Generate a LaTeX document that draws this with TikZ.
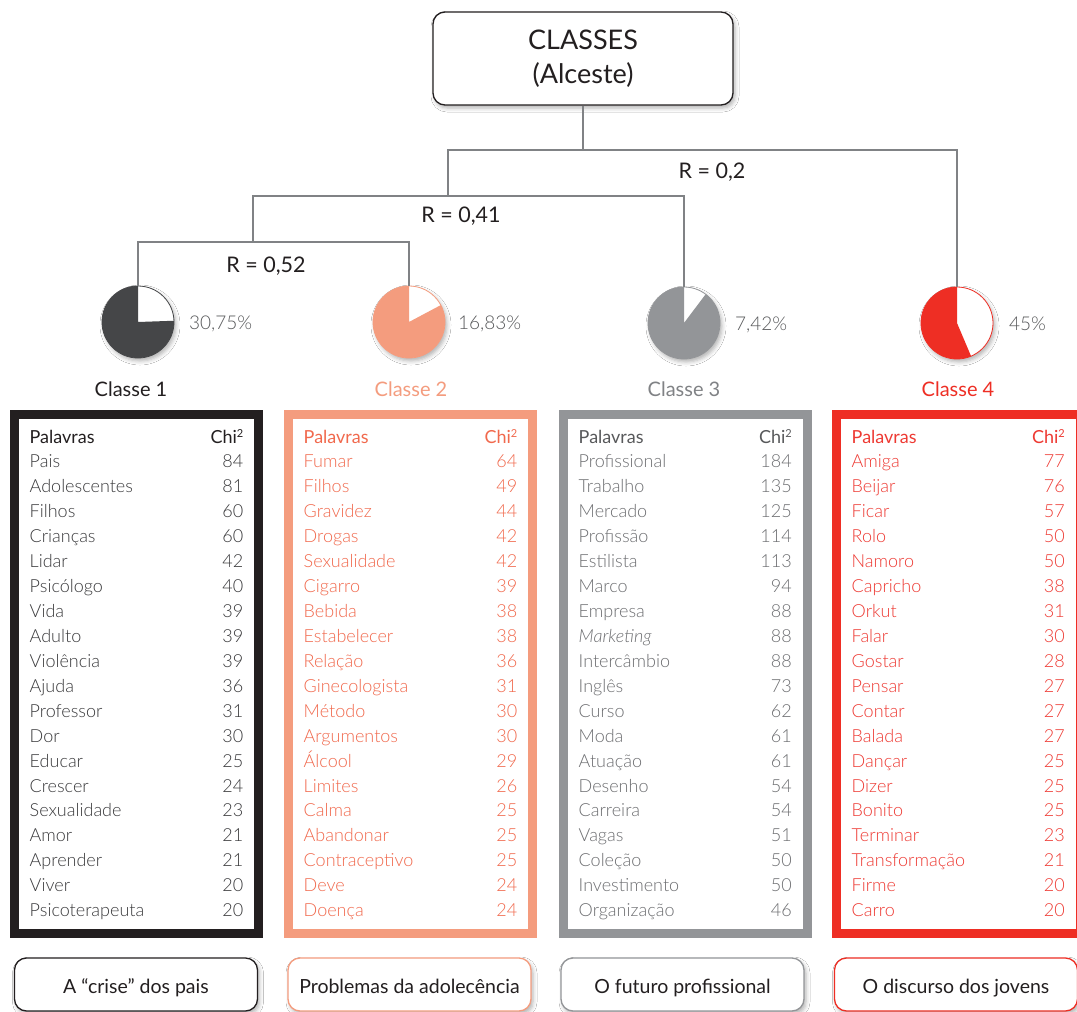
\documentclass[tikz,border=0pt]{standalone}
\usepackage{fontspec}
\setmainfont{Lato}
\newfontfamily\lightfont{Lato Light}
\usetikzlibrary{shadows.blur}
\definecolor{cblack}{HTML}{231F20}
\definecolor{csalmon}{HTML}{F49C7E}
\definecolor{cgray}{HTML}{939598}
\definecolor{cred}{HTML}{EE2E24}
\definecolor{cdark}{HTML}{454648}
\definecolor{tline}{HTML}{808285}
\definecolor{txtA}{HTML}{3A3A3C}
\definecolor{txtB}{HTML}{F1694D}
\definecolor{txtC}{HTML}{6D6E71}
\definecolor{txtD}{HTML}{EE3A33}
\definecolor{pctcol}{HTML}{58595B}
\newcommand\mkt{\textit{Marketing}}
\newcommand\chisq{Chi\raisebox{6pt}{\fontsize{11}{11}\selectfont 2}}
\begin{document}
\begin{tikzpicture}[x=1pt,y=-1pt,
  tree/.style={draw=tline, line width=2.3},
  myshadow/.style={blur shadow={shadow xshift=2pt, shadow yshift=-3pt, shadow blur radius=4pt, shadow opacity=30}},
  titlebox/.style={rounded corners=12, draw=cblack, line width=1.3, fill=white, minimum width=300, minimum height=93, inner sep=0, align=center, myshadow, font=\fontsize{27}{34}\selectfont, text=cblack},
  pie/.style={circle, minimum size=72, inner sep=0, fill=white, line width=0.8, myshadow},
  rlab/.style={anchor=base, inner sep=0, font=\fontsize{21.5}{24}\selectfont, text=cblack},
  pct/.style={anchor=base west, inner sep=0, font=\lightfont\fontsize{19}{22}\selectfont, text=pctcol},
  cls/.style={anchor=base, inner sep=0, font=\fontsize{20}{22}\selectfont},
  tbl/.style={draw, line width=9, minimum width=244, minimum height=519, inner sep=0},
  head/.style={inner sep=0, font=\fontsize{18}{20}\selectfont},
  word/.style={anchor=base west, inner sep=0, font=\lightfont\fontsize{18}{20}\selectfont},
  num/.style={anchor=base east, inner sep=0, font=\lightfont\fontsize{18}{20}\selectfont},
  bbox/.style={rounded corners=12, draw, line width=1.3, fill=white, minimum width=243, minimum height=53, inner sep=0, myshadow, font=\fontsize{19.5}{22}\selectfont, text=cblack, text height=17, text depth=0}
]
\useasboundingbox (0,0) rectangle (1077,1012);
\fill[white] (0,0) rectangle (1077,1012);

% title
\node[titlebox] (title) at (583,58.5) {CLASSES\\(Alceste)};

% junctions
\coordinate (j1) at (583,150);
\coordinate (j2) at (448,196);
\coordinate (j3) at (253,242);

% pies
\node[pie, draw=cdark] (p1) at (138,322) {};
\node[pie, draw=csalmon] (p2) at (409,322) {};
\node[pie, draw=cgray] (p3) at (684,323) {};
\node[pie, draw=cred] (p4) at (957,323) {};
\fill[cdark] (p1.center) -- ++(-90:36) arc[start angle=-90, end angle=-362, radius=36] -- cycle;
\fill[csalmon] (p2.center) -- ++(-90:36) arc[start angle=-90, end angle=-388, radius=36] -- cycle;
\fill[cgray] (p3.center) -- ++(-90:36) arc[start angle=-90, end angle=-413, radius=36] -- cycle;
\fill[cred] (p4.center) -- ++(-90:36) arc[start angle=-90, end angle=-293, radius=36] -- cycle;

% tree
\draw[tree] (title.south) -- (j1);
\draw[tree] (p4.north) |- (j2 |- j1) -- (j2);
\draw[tree] (p3.north) |- (j3 |- j2) -- (j3);
\draw[tree] (p2.north) |- (p1.north |- j3) -- (p1.north);

% R labels
\node[rlab] (r1) at (266,272.5) {R = 0,52};
\node[rlab] (r2) at (461,222.5) {R = 0,41};
\node[rlab] (r3) at (712,178) {R = 0,2};

% percentages
\node[pct] (q1) at (189,329) {30,75\%};
\node[pct] (q2) at (458,329) {16,83\%};
\node[pct] (q3) at (735,330) {7,42\%};
\node[pct] (q4) at (1009,330) {45\%};

% class labels
\node[cls, text=cblack] (k1) at (131,396) {Classe 1};
\node[cls, text=csalmon] (k2) at (411,396) {Classe 2};
\node[cls, text=tline] (k3) at (684,396) {Classe 3};
\node[cls, text=cred] (k4) at (958,396) {Classe 4};

% tables
\node[tbl, draw=cblack] (t1) at (136.5,674) {};
\node[tbl, draw=csalmon] (t2) at (410.5,674) {};
\node[tbl, draw=cgray] (t3) at (685,674) {};
\node[tbl, draw=cred] (t4) at (958.5,674) {};

\node[head, anchor=base west, text=cblack] (t1h) at (29.5,443) {Palavras};
\node[head, anchor=base east, text=cblack] (t1x) at (243.5,443) {\chisq};
\foreach \w/\n [count=\k] in {Pais/84, Adolescentes/81, Filhos/60, Crianças/60, Lidar/42, Psicólogo/40, Vida/39, Adulto/39, Violência/39, Ajuda/36, Professor/31, Dor/30, Educar/25, Crescer/24, Sexualidade/23, Amor/21, Aprender/21, Viver/20, Psicoterapeuta/20}{
  \node[word, text=txtA] (t1w\k) at (29.5,{443+24.93*\k}) {\w};
  \node[num, text=txtA] (t1n\k) at (243.5,{443+24.93*\k}) {\n};
}

\node[head, anchor=base west, text=txtB] (t2h) at (303.5,443) {Palavras};
\node[head, anchor=base east, text=txtB] (t2x) at (517.5,443) {\chisq};
\foreach \w/\n [count=\k] in {Fumar/64, Filhos/49, Gravidez/44, Drogas/42, Sexualidade/42, Cigarro/39, Bebida/38, Estabelecer/38, Relação/36, Ginecologista/31, Método/30, Argumentos/30, Álcool/29, Limites/26, Calma/25, Abandonar/25, Contraceptivo/25, Deve/24, Doença/24}{
  \node[word, text=txtB] (t2w\k) at (303.5,{443+24.93*\k}) {\w};
  \node[num, text=txtB] (t2n\k) at (517.5,{443+24.93*\k}) {\n};
}

\node[head, anchor=base west, text=pctcol] (t3h) at (578.5,443) {Palavras};
\node[head, anchor=base east, text=pctcol] (t3x) at (792,443) {\chisq};
\foreach \w/\n [count=\k] in {Profissional/184, Trabalho/135, Mercado/125, Profissão/114, Estilista/113, Marco/94, Empresa/88, \mkt/88, Intercâmbio/88, Inglês/73, Curso/62, Moda/61, Atuação/61, Desenho/54, Carreira/54, Vagas/51, Coleção/50, Investimento/50, Organização/46}{
  \node[word, text=txtC] (t3w\k) at (578.5,{443+24.93*\k}) {\w};
  \node[num, text=txtC] (t3n\k) at (792,{443+24.93*\k}) {\n};
}

\node[head, anchor=base west, text=txtD] (t4h) at (851.5,443) {Palavras};
\node[head, anchor=base east, text=txtD] (t4x) at (1065,443) {\chisq};
\foreach \w/\n [count=\k] in {Amiga/77, Beijar/76, Ficar/57, Rolo/50, Namoro/50, Capricho/38, Orkut/31, Falar/30, Gostar/28, Pensar/27, Contar/27, Balada/27, Dançar/25, Dizer/25, Bonito/25, Terminar/23, Transformação/21, Firme/20, Carro/20}{
  \node[word, text=txtD] (t4w\k) at (851.5,{443+24.93*\k}) {\w};
  \node[num, text=txtD] (t4n\k) at (1065,{443+24.93*\k}) {\n};
}

% bottom boxes
\node[bbox, draw=cblack] (b1) at (136,984.5) {A “crise” dos pais};
\node[bbox, draw=csalmon] (b2) at (409.5,984.5) {Problemas da adolecência};
\node[bbox, draw=cgray] (b3) at (682.5,984.5) {O futuro profissional};
\node[bbox, draw=cred] (b4) at (956,984.5) {O discurso dos jovens};
\end{tikzpicture}
\end{document}
